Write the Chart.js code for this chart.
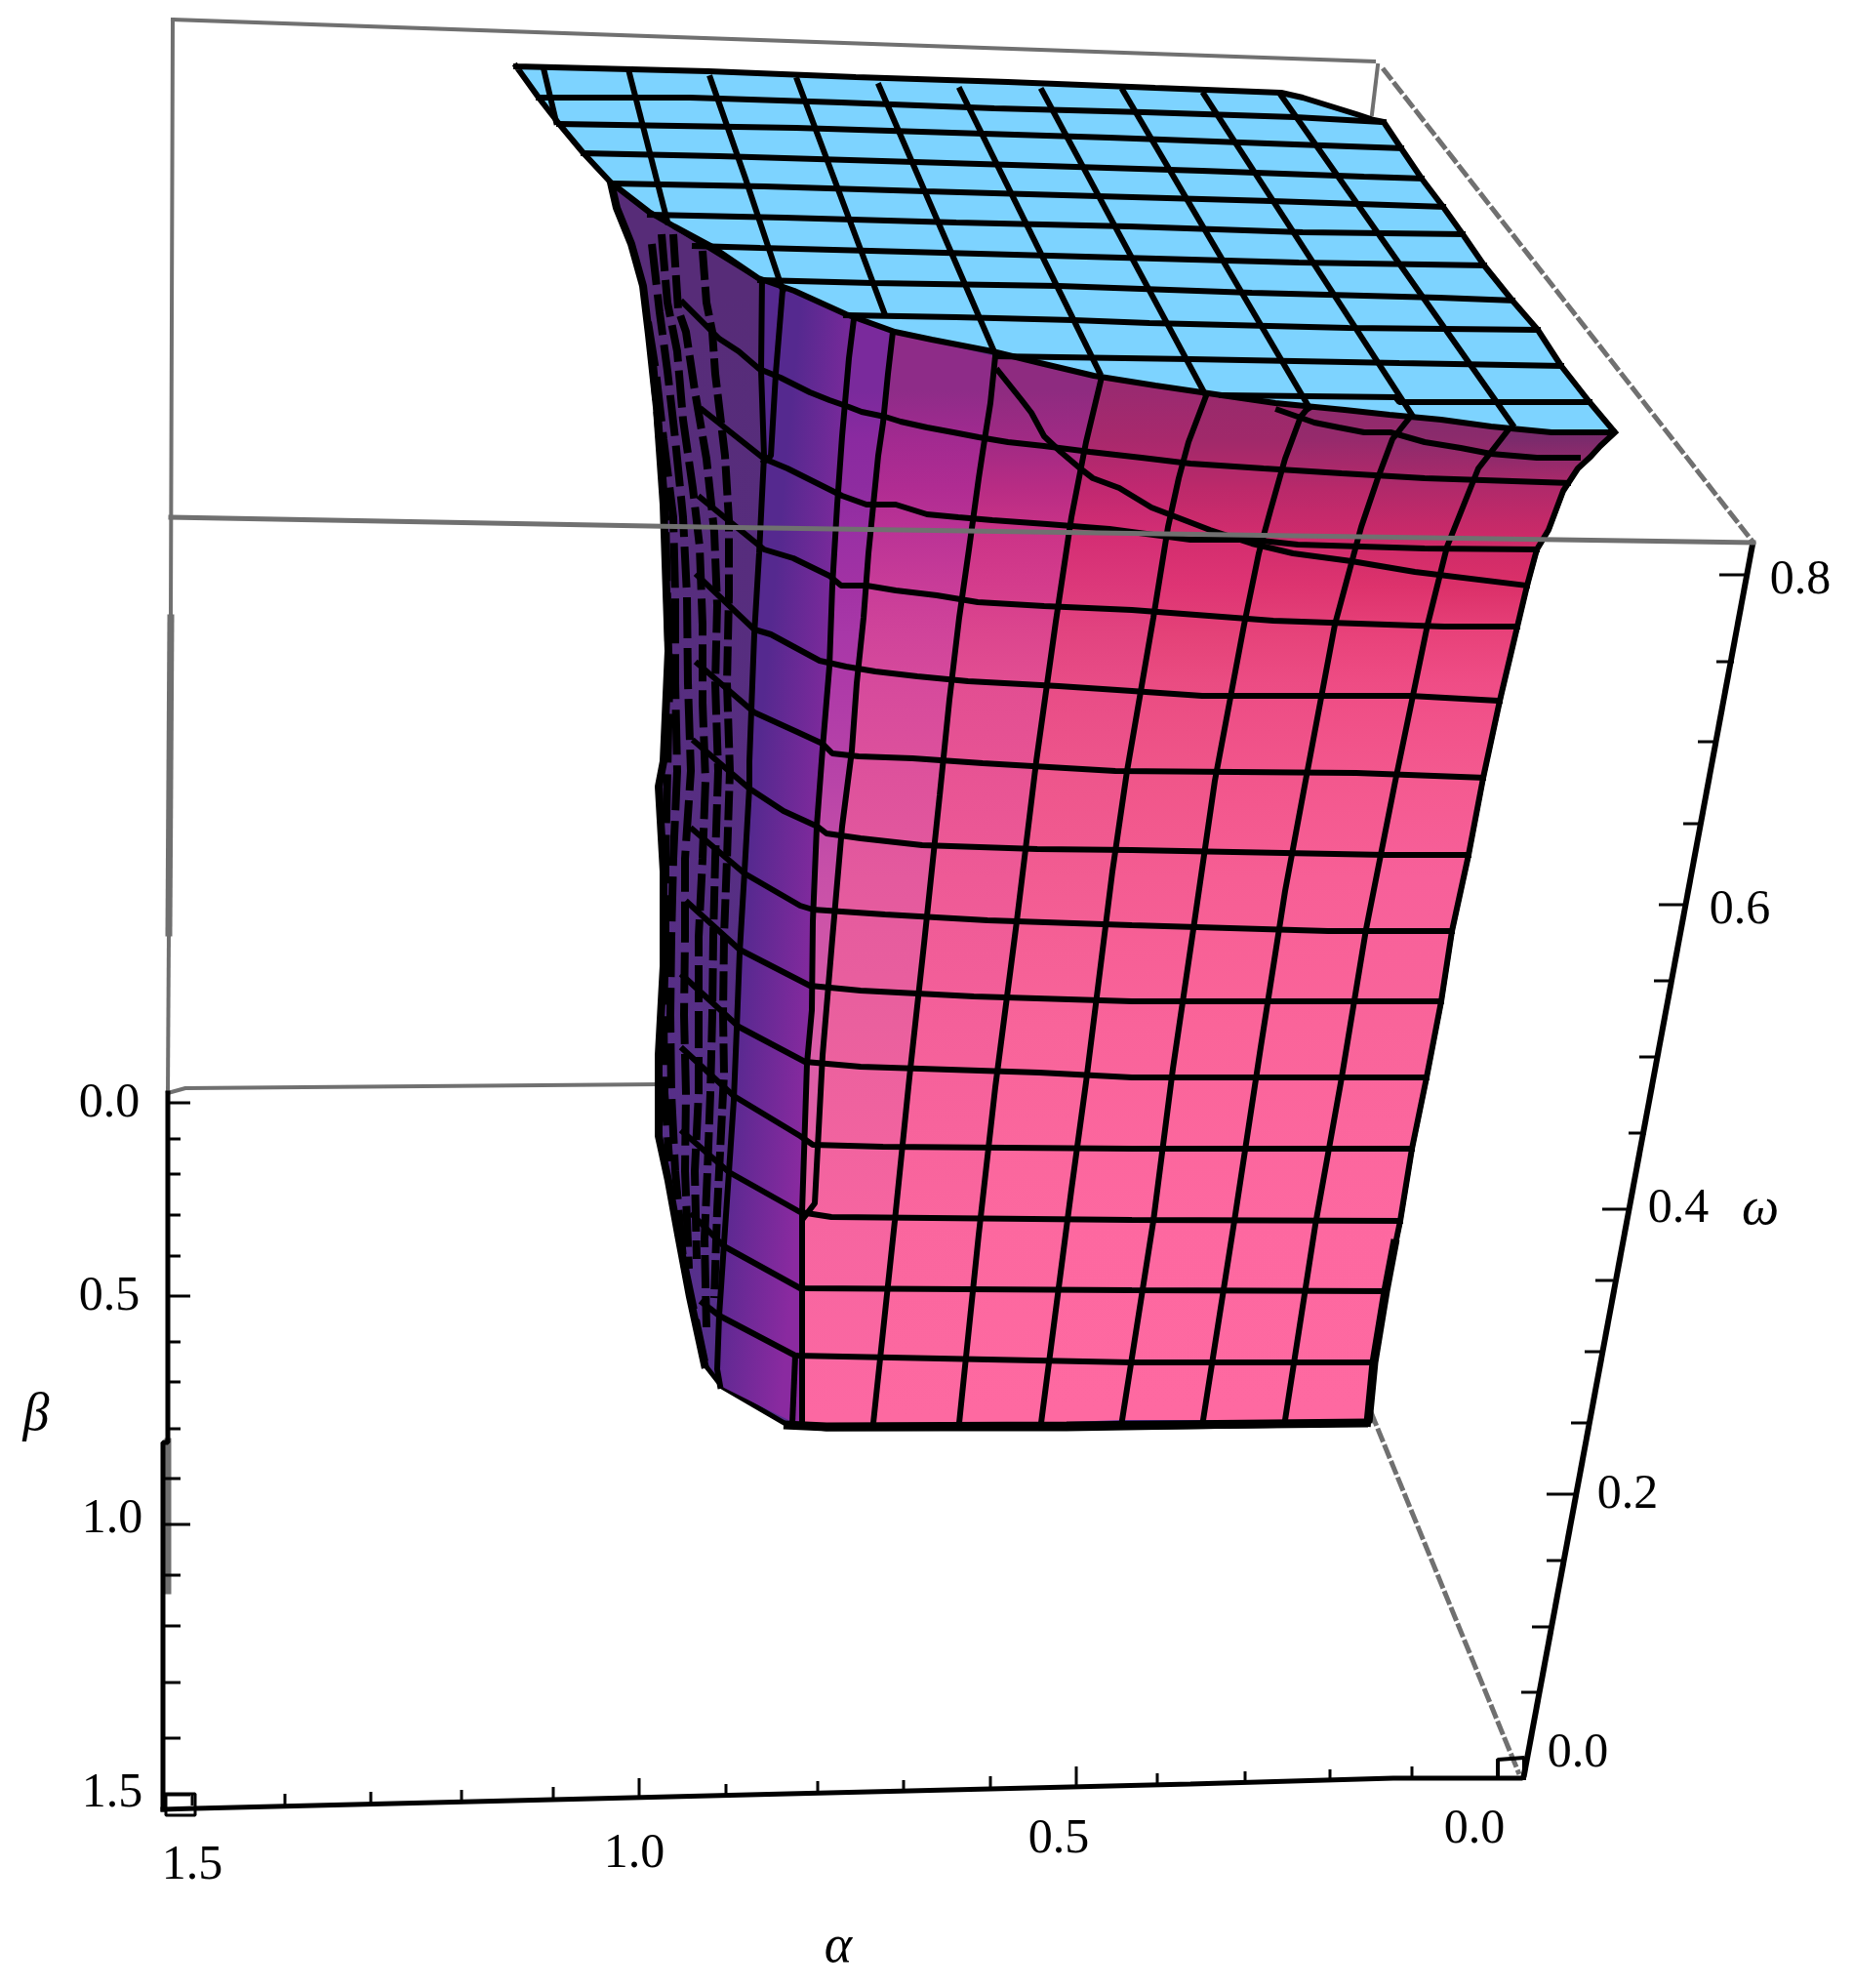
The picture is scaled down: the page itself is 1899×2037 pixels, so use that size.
<!DOCTYPE html>
<html>
<head>
<meta charset="utf-8">
<title>Surface in alpha, beta, omega</title>
<script src="https://cdn.jsdelivr.net/npm/chart.js@4/dist/chart.umd.min.js"></script>
<style>
html, body { margin: 0; background: #fff; }
canvas { display: block; }
</style>
</head>
<body>
<canvas id="surface" width="1899" height="2037"></canvas>
<script>

// tick labels
const alphaLabels = ['1.5', '1.0', '0.5', '0.0'];
const betaLabels = ['0.0', '0.5', '1.0', '1.5'];
const omegaLabels = ['0.8', '0.6', '0.4', '0.2', '0.0'];

const alphaLabelAt = [[197, 1912], [650, 1900], [1085, 1885], [1511, 1875]];
const betaLabelAt = [[112, 1131], [112, 1329], [115, 1557], [115, 1838]];
const omegaLabelAt = [[1845, 595], [1783, 933], [1720, 1239], [1668, 1532], [1617, 1797]];

// ticks along the box axes
const alphaTicks = [[197, 1850], [292, 1850], [380, 1848], [473, 1846], [567, 1843], [655, 1842], [744, 1840], [838, 1837],
    [926, 1836], [1015, 1832], [1103, 1830], [1186, 1829], [1276, 1827], [1363, 1825], [1447, 1822], [1535, 1822]];
const betaTicks = [[173, 1130], [173, 1167], [173, 1203], [173, 1245], [173, 1287], [173, 1328], [173, 1375], [173, 1416],
    [173, 1464], [167, 1515], [167, 1562], [167, 1614], [167, 1666], [167, 1724], [167, 1781], [167, 1839]];
const omegaTicks = [[1790, 589], [1777, 678], [1758, 760], [1743, 844], [1728, 927], [1713, 1005], [1698, 1083], [1687, 1161],
    [1670, 1239], [1653, 1312], [1642, 1385], [1628, 1458], [1613, 1531], [1603, 1599], [1588, 1667], [1577, 1734]];

// box and axes
const boxBack = [
    [[177, 20], [1408, 63]],
    [[177, 20], [175, 633]],
    [[173, 956], [172, 1120]],
    [[1412, 67], [1406, 117]],
    [[172, 1120], [190, 1115], [675, 1111]]
];
const boxThick = [
    [[175, 633], [173, 956]],
    [[172, 1477], [172, 1630]]
];
const boxSlant = [
    [[1417, 70], [1797, 556]],
    [[1405, 1447], [1557, 1818]]
];
const boxFront = [[175, 530], [720, 540], [1797, 556]];
const alphaAxis = [[167, 1854], [200, 1853], [403, 1848], [607, 1843], [808, 1838], [1015, 1833], [1220, 1828], [1428, 1822], [1558, 1822]];
const betaAxis = [[172, 1120], [172, 1478], [167, 1478], [167, 1854]];
const omegaAxis = [[1796, 558], [1562, 1818]];
const cornerLow = [[170, 1838], [200, 1838], [200, 1860], [170, 1860], [170, 1838]];
const cornerBack = [[1535, 1822], [1535, 1803], [1562, 1801], [1562, 1822]];

// flat top of the surface, omega = 0.8
const topOutline = [[529, 68], [726, 73], [877, 79], [1033, 84], [1184, 90], [1313, 95], [1335, 100], [1390, 117], [1408, 123],
    [1418, 125], [1436, 152], [1457, 183], [1479, 212], [1499, 240], [1521, 272], [1550, 308], [1576, 338], [1600, 375], [1629, 412], [1655, 443],
    [1590, 443], [1528, 437], [1477, 430], [1424, 425], [1378, 420], [1307, 413], [1252, 405], [1184, 395], [1121, 385], [1066, 372], [1017, 360],
    [955, 348], [917, 340], [867, 322], [814, 298], [777, 285], [730, 253], [691, 232], [665, 217], [626, 187], [598, 157], [573, 127], [552, 100], [529, 68]];
const topRows = [
    [[552, 100], [707, 100], [862, 105], [1019, 111], [1173, 115], [1327, 120], [1418, 125]],
    [[573, 127], [816, 131], [976, 136], [1137, 141], [1299, 147], [1436, 152]],
    [[598, 157], [737, 160], [904, 165], [1070, 170], [1232, 175], [1398, 181], [1457, 183]],
    [[628, 188], [783, 191], [948, 196], [1125, 201], [1303, 206], [1479, 212]],
    [[666, 220], [804, 223], [980, 228], [1157, 232], [1335, 238], [1499, 240]],
    [[712, 252], [779, 254], [967, 259], [1149, 264], [1331, 269], [1521, 272]],
    [[779, 287], [894, 290], [1085, 293], [1283, 300], [1475, 305], [1550, 308]],
    [[867, 323], [980, 325], [1100, 328], [1178, 331], [1382, 336], [1576, 338]],
    [[1020, 365], [1220, 368], [1434, 372], [1600, 375]],
    [[1252, 405], [1430, 407], [1434, 412], [1629, 412]]
];
const topColumns = [
    [[557, 70], [570, 125]],
    [[645, 75], [684, 227]],
    [[728, 80], [764, 183], [802, 297]],
    [[817, 82], [866, 213], [906, 320]],
    [[901, 88], [1020, 363]],
    [[984, 92], [1127, 382]],
    [[1068, 93], [1234, 402]],
    [[1151, 93], [1342, 418]],
    [[1234, 97], [1447, 425]],
    [[1313, 98], [1550, 435]]
];

// steep wall of the surface
const wallOutline = [[626, 187], [632, 213], [647, 250], [659, 293], [665, 343], [673, 417], [680, 517], [685, 667], [680, 780], [675, 806],
    [680, 893], [680, 990], [675, 1081], [675, 1164], [685, 1210], [695, 1265], [707, 1329], [722, 1398], [740, 1421], [807, 1460], [847, 1464],
    [1093, 1464], [1402, 1459], [1408, 1396], [1420, 1323], [1435, 1251], [1447, 1177], [1462, 1104], [1477, 1026], [1488, 954], [1505, 876],
    [1520, 797], [1537, 718], [1555, 642], [1565, 600], [1575, 563], [1587, 543], [1602, 503], [1617, 480], [1630, 468], [1640, 457], [1655, 443],
    [1590, 443], [1378, 420], [1184, 395], [1017, 360], [867, 322], [777, 285], [691, 232], [626, 187]];
const wallSilhouette = [[626, 187], [632, 213], [647, 250], [659, 293], [665, 343], [673, 417], [680, 517], [685, 667], [680, 780], [675, 806],
    [680, 893], [680, 990], [675, 1081], [675, 1164], [685, 1210], [695, 1265], [707, 1329], [722, 1398]];
const wallBottom = [[803, 1460], [847, 1462], [1093, 1461], [1402, 1458]];
const wallRightFoot = [[1402, 1458], [1408, 1396], [1420, 1323], [1430, 1270]];
const wallColumns = [
    [[781, 283], [780, 380], [783, 467], [778, 567], [773, 650], [768, 780], [768, 806], [763, 893], [758, 976], [755, 1054], [752, 1127], [747, 1201], [742, 1274], [737, 1348], [735, 1403], [738, 1420]],
    [[875, 327], [870, 367], [863, 447], [858, 517], [853, 600], [850, 683], [843, 767], [837, 847], [833, 944], [832, 1035], [827, 1090], [822, 1242], [822, 1462]],
    [[915, 340], [910, 383], [905, 433], [900, 467], [895, 517], [890, 567], [885, 633], [878, 700], [873, 769], [863, 847], [853, 962], [843, 1081], [835, 1233], [822, 1250], [822, 1462]],
    [[1020, 365], [1015, 413], [1008, 457], [1003, 490], [993, 563], [983, 633], [973, 717], [963, 815], [947, 967], [932, 1104], [917, 1251], [895, 1458]],
    [[1130, 382], [1113, 453], [1098, 530], [1082, 637], [1062, 780], [1042, 944], [1020, 1114], [1003, 1265], [983, 1458]],
    [[1237, 403], [1218, 453], [1208, 490], [1197, 540], [1182, 633], [1155, 790], [1140, 893], [1113, 1109], [1098, 1219], [1067, 1458]],
    [[1342, 416], [1333, 427], [1317, 470], [1302, 523], [1290, 567], [1275, 640], [1245, 800], [1223, 952], [1202, 1095], [1182, 1251], [1150, 1455]],
    [[1447, 425], [1427, 450], [1412, 490], [1395, 540], [1385, 577], [1368, 640], [1338, 800], [1317, 913], [1292, 1073], [1265, 1251], [1233, 1455]],
    [[1550, 435], [1515, 480], [1483, 560], [1463, 640], [1430, 800], [1400, 952], [1375, 1104], [1348, 1255], [1317, 1455]],
    [[1655, 443], [1640, 457], [1630, 468], [1617, 480], [1602, 503], [1587, 543], [1575, 563], [1565, 600], [1555, 642], [1537, 718], [1520, 797], [1505, 876], [1488, 954], [1477, 1026], [1462, 1104], [1447, 1177], [1435, 1251], [1420, 1323], [1408, 1396], [1402, 1459]]
];
const wallExtras = [
    [[802, 297], [795, 383], [790, 467], [783, 473]],
    [[812, 1458], [815, 1389]]
];
const wallRows = [
    [[1310, 420], [1330, 427], [1347, 433], [1372, 438], [1398, 443], [1425, 443], [1460, 453], [1497, 459], [1528, 465], [1575, 469], [1617, 469]],
    [[700, 310], [737, 347], [757, 360], [778, 378], [800, 387], [830, 402], [850, 410], [870, 417], [883, 422], [907, 427], [923, 432], [950, 438], [977, 443], [1003, 448], [1033, 453], [1070, 457], [1117, 463], [1170, 469], [1220, 475], [1295, 480], [1375, 485], [1460, 490], [1607, 495]],
    [[1023, 380], [1047, 410], [1057, 423], [1070, 447], [1087, 463], [1107, 480], [1120, 490], [1147, 500], [1180, 520], [1240, 543], [1283, 557], [1325, 567], [1385, 575], [1450, 586], [1565, 600]],
    [[720, 420], [783, 470], [807, 480], [847, 500], [863, 508], [888, 517], [918, 517], [950, 527], [982, 530], [1017, 533], [1073, 537], [1137, 542], [1220, 553], [1283, 553], [1330, 558], [1460, 562], [1575, 563]],
    [[718, 510], [783, 563], [813, 572], [850, 590], [862, 600], [888, 600], [918, 605], [960, 610], [1002, 617], [1070, 621], [1160, 625], [1305, 636], [1480, 642], [1555, 642]],
    [[715, 590], [773, 645], [790, 650], [840, 677], [867, 683], [897, 688], [940, 693], [992, 698], [1085, 703], [1160, 708], [1232, 713], [1445, 713], [1537, 718]],
    [[715, 680], [773, 730], [817, 750], [843, 762], [853, 772], [880, 775], [935, 777], [1007, 782], [1143, 790], [1390, 792], [1520, 797]],
    [[712, 760], [768, 808], [803, 831], [838, 847], [847, 854], [882, 859], [945, 866], [1063, 870], [1160, 871], [1420, 876], [1505, 876]],
    [[710, 850], [763, 895], [820, 928], [833, 932], [907, 937], [1012, 943], [1160, 948], [1361, 954], [1488, 954]],
    [[705, 925], [758, 973], [830, 1010], [882, 1015], [998, 1021], [1160, 1026], [1477, 1026]],
    [[700, 1000], [757, 1052], [825, 1088], [882, 1093], [1065, 1099], [1160, 1104], [1462, 1104]],
    [[700, 1075], [752, 1123], [820, 1164], [833, 1173], [905, 1175], [1160, 1177], [1447, 1177]],
    [[700, 1160], [747, 1201], [820, 1242], [852, 1247], [1160, 1250], [1435, 1251]],
    [[710, 1245], [742, 1277], [820, 1320], [1160, 1322], [1420, 1323]],
    [[720, 1335], [737, 1348], [815, 1389], [1160, 1396], [1408, 1396]]
];
// the tightly packed lines at the far left of the wall
const stripLines = [
    [[720, 257], [724, 310], [730, 340], [733, 383], [743, 467], [747, 533], [747, 610], [745, 700], [748, 790], [745, 880], [742, 960], [741, 1040], [742, 1100], [738, 1180], [735, 1240], [732, 1330]],
    [[690, 240], [695, 317], [703, 340], [712, 400], [724, 470], [732, 545], [735, 620], [733, 700], [736, 790], [733, 880], [731, 960], [730, 1040], [728, 1120], [725, 1200], [722, 1270], [724, 1360]],
    [[678, 240], [684, 310], [694, 360], [700, 430], [710, 500], [717, 560], [720, 640], [720, 720], [723, 800], [720, 880], [716, 960], [716, 1040], [716, 1120], [712, 1200], [714, 1290]],
    [[668, 250], [676, 320], [684, 380], [692, 450], [700, 530], [704, 610], [705, 700], [708, 790], [702, 880], [702, 960], [701, 1040], [703, 1120], [702, 1200], [706, 1300]],
    [[664, 330], [672, 380], [680, 450], [690, 530], [692, 610], [692, 700], [694, 790], [690, 880], [688, 960], [687, 1040], [688, 1120], [692, 1200], [700, 1290], [722, 1395]],
    [[668, 360], [676, 450], [682, 530], [684, 620], [686, 700], [684, 790], [682, 880], [682, 960], [680, 1040], [681, 1120], [686, 1190]]
];

// wall shading, one list per band between two wall columns, sampled at shadeLevels
const shadeLevels = [400, 450, 500, 550, 600, 650, 700, 800, 900, 1050, 1250, 1450];
const bandShades = [
    null,
    ['#7a2a9c', '#8a2aa0', '#8e2ca0', '#9a30a4', '#a232a4', '#a838a8', '#ae3aa8', '#b844a8', '#c850a8', '#d85ca8', '#ea62a4', '#f865a2'],
    ['#8e2c88', '#a22a90', '#b02c92', '#bc3496', '#c83c98', '#d0449a', '#d64a9c', '#de529c', '#e45a9e', '#ea609e', '#f665a0', '#fc68a2'],
    ['#8e2b80', '#a02a84', '#b82c84', '#cc3488', '#d43c8c', '#dc468e', '#e24e92', '#e85494', '#ee5a96', '#f4609a', '#fa669e', '#fd69a1'],
    ['#9a2a70', '#a8296c', '#c02870', '#d42e74', '#dc387a', '#e24480', '#e84c86', '#ee568c', '#f25c92', '#f8649a', '#fc689f', '#fe69a1'],
    ['#982a6c', '#a0296a', '#bc296a', '#d32d6e', '#de3474', '#e44278', '#ea4c82', '#f0568a', '#f45c92', '#f9639a', '#fd68a0', '#fe69a1'],
    ['#8a2b6c', '#962a6c', '#b8296a', '#cf2b6c', '#dd3470', '#e6437a', '#ec4c84', '#f2568c', '#f65e94', '#fa6499', '#fd68a0', '#fe69a1'],
    ['#7a2a6c', '#8c2b6c', '#b0296a', '#cc2a69', '#dd326c', '#e8427a', '#ee4c84', '#f3588e', '#f75f96', '#fa649a', '#fd68a0', '#fe69a1'],
    ['#70286a', '#7a2b6c', '#b0296a', '#cc2a68', '#db3069', '#e8427a', '#ef4d86', '#f45a90', '#f7609a', '#f9649a', '#fd68a0', '#fe69a1']
];
const purpleLeft = '#55298f';
const purpleRight = '#8a2aa0';
const stripTop = '#572c78';
const stripBottom = '#56308e';
const topBlue = '#7dd3ff';
const boxGrey = '#707070';

const datasets = [];

function toPoints(list) {
    return list.map(p => ({ x: p[0], y: p[1] }));
}

function addLine(list, color, width, extra) {
    datasets.push(Object.assign({
        data: toPoints(list),
        showLine: true,
        pointRadius: 0,
        borderColor: color,
        borderWidth: width,
        borderJoinStyle: 'bevel',
        borderCapStyle: 'square',
        tension: 0,
        fill: false
    }, extra || {}));
}

function addShape(list, background, lineColor, width) {
    addLine(list, lineColor, width, { fill: 'shape', backgroundColor: background });
}

// gradient down the picture, through the scales so it sits with the marks
function downShade(levels, colors) {
    return function (ctx) {
        const chart = ctx.chart;
        if (!chart.chartArea) return colors[0];
        const y0 = chart.scales.y.getPixelForValue(levels[0]);
        const y1 = chart.scales.y.getPixelForValue(levels[levels.length - 1]);
        const g = chart.ctx.createLinearGradient(0, y0, 0, y1);
        levels.forEach((lv, i) => g.addColorStop((lv - levels[0]) / (levels[levels.length - 1] - levels[0]), colors[i]));
        return g;
    };
}

// gradient across a band, from the middle of its left column to the middle of the right one
function acrossShade(leftCol, rightCol, colorA, colorB) {
    return function (ctx) {
        const chart = ctx.chart;
        if (!chart.chartArea) return colorA;
        const a = leftCol[Math.floor(leftCol.length / 2)];
        const b = rightCol[Math.floor(rightCol.length / 2)];
        const g = chart.ctx.createLinearGradient(
            chart.scales.x.getPixelForValue(a[0]), chart.scales.y.getPixelForValue(a[1]),
            chart.scales.x.getPixelForValue(b[0]), chart.scales.y.getPixelForValue(a[1] + 8));
        g.addColorStop(0, colorA);
        g.addColorStop(1, colorB);
        return g;
    };
}

// back of the box first
boxBack.forEach(l => addLine(l, boxGrey, 4));
boxThick.forEach(l => addLine(l, boxGrey, 7));
boxSlant.forEach(l => addLine(l, boxGrey, 5, { borderDash: [15, 3], borderCapStyle: 'butt' }));

// axes and ticks
addLine(alphaAxis, '#000', 5);
addLine(betaAxis, '#000', 5);
addLine(omegaAxis, '#000', 6);
addLine(cornerLow, '#000', 3);
addLine(cornerBack, '#000', 4);
alphaTicks.forEach((t, i) => {
    const rise = i % 5 === 0 && i > 0 ? 20 : 12;
    addLine([t, [t[0], t[1] - rise]], '#000', 3, { borderCapStyle: 'butt' });
});
betaTicks.forEach((t, i) => {
    const reach = i % 5 === 0 ? 195 : 185;
    addLine([t, [reach, t[1]]], '#000', 3, { borderCapStyle: 'butt' });
});
omegaTicks.forEach((t, i) => {
    const reach = i % 4 === 0 ? 28 : 18;
    addLine([t, [t[0] - reach, t[1]]], '#000', 3, { borderCapStyle: 'butt' });
});

// wall fill, then a band between each pair of columns
addShape(wallOutline, downShade([300, 1450], [stripTop, stripBottom]), '#000', 5);
bandShades.forEach((colors, i) => {
    const left = wallColumns[i];
    const right = wallColumns[i + 1];
    const poly = left.concat(right.slice().reverse());
    const shade = colors ? downShade(shadeLevels, colors) : acrossShade(left, right, purpleLeft, purpleRight);
    addLine(poly, 'rgba(0,0,0,0)', 0, { fill: 'shape', backgroundColor: shade });
});

// wall mesh
stripLines.forEach((l, i) => addLine(l, '#000', 8, { borderDash: [30 + i * 4, 7 + i], borderCapStyle: 'butt' }));
wallRows.forEach(l => addLine(l, '#000', 6));
wallExtras.forEach(l => addLine(l, '#000', 6));
wallColumns.forEach(l => addLine(l, '#000', 6));
addLine(wallSilhouette, '#000', 8);
addLine(wallBottom, '#000', 9, { borderCapStyle: 'butt' });
addLine(wallRightFoot, '#000', 9, { borderCapStyle: 'butt' });

// flat top and its mesh
addShape(topOutline, topBlue, '#000', 6);
topRows.forEach(l => addLine(l, '#000', 6));
topColumns.forEach(l => addLine(l, '#000', 6));

// this edge of the box is drawn over the surface
addLine(boxFront, boxGrey, 5);

datasets.forEach((d, i) => { d.order = datasets.length - i; });

const axisText = {
    id: 'axisText',
    afterDatasetsDraw(chart) {
        const ctx = chart.ctx;
        const sx = chart.scales.x;
        const sy = chart.scales.y;
        function put(text, at, font) {
            ctx.font = font;
            ctx.fillText(text, sx.getPixelForValue(at[0]), sy.getPixelForValue(at[1]));
        }
        ctx.save();
        ctx.fillStyle = '#000';
        ctx.textAlign = 'center';
        ctx.textBaseline = 'middle';
        const num = '50px "Liberation Serif"';
        const greek = 'italic 54px "Liberation Serif"';
        alphaLabels.forEach((t, i) => put(t, alphaLabelAt[i], num));
        betaLabels.forEach((t, i) => put(t, betaLabelAt[i], num));
        omegaLabels.forEach((t, i) => put(t, omegaLabelAt[i], num));
        put('α', [859, 1996], greek);
        put('β', [37, 1451], greek);
        put('ω', [1804, 1240], greek);
        ctx.restore();
    }
};

new Chart(document.getElementById('surface').getContext('2d'), {
    type: 'scatter',
    data: { datasets: datasets },
    options: {
        responsive: false,
        animation: false,
        devicePixelRatio: 1,
        events: [],
        layout: { padding: 0 },
        plugins: { legend: { display: false }, title: { display: false }, tooltip: { enabled: false } },
        scales: {
            x: { type: 'linear', min: 0, max: 1899, display: false },
            y: { type: 'linear', min: 0, max: 2037, reverse: true, display: false }
        }
    },
    plugins: [axisText]
});
</script>
</body>
</html>
